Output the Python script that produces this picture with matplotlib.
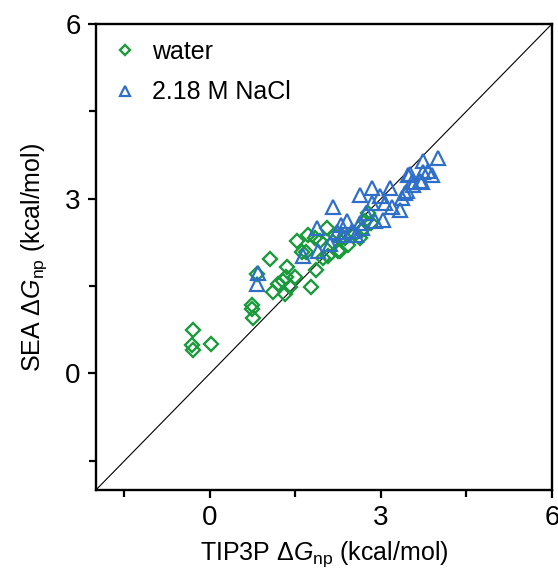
"""Recreate SEA vs TIP3P nonpolar solvation free energy scatter plot."""
import matplotlib
matplotlib.use('Agg')
import matplotlib.pyplot as plt

plt.rcParams['font.family'] = ['Liberation Sans', 'DejaVu Sans']
plt.rcParams['mathtext.fontset'] = 'custom'
plt.rcParams['mathtext.rm'] = 'Liberation Sans'
plt.rcParams['mathtext.it'] = 'Liberation Sans:italic'

# water: TIP3P (x) vs SEA (y), kcal/mol
water_x = [-0.30, -0.32, -0.30, 0.02, 0.74, 0.74, 0.75, 0.82, 1.05, 1.11,
           1.19, 1.28, 1.35, 1.32, 1.40, 1.49, 1.53, 1.61, 1.72, 1.77,
           1.86, 1.93, 2.05, 2.07, 2.16, 2.28, 2.37, 2.42, 2.54, 2.63,
           2.67, 2.77, 2.82, 2.72, 2.19, 1.98, 1.33, 1.68, 1.84, 2.25]
water_y = [0.74, 0.48, 0.41, 0.51, 1.18, 1.11, 0.96, 1.70, 1.97, 1.39,
           1.54, 1.58, 1.82, 1.36, 1.48, 1.66, 2.28, 2.08, 2.38, 1.49,
           1.78, 2.28, 2.50, 2.02, 2.25, 2.11, 2.33, 2.20, 2.40, 2.32,
           2.47, 2.76, 2.59, 2.62, 2.38, 1.99, 1.65, 2.08, 2.33, 2.11]

# 2.18 M NaCl
nacl_x = [0.84, 0.82, 1.63, 1.88, 1.89, 2.11, 2.16, 2.23, 2.32, 2.40,
          2.49, 2.63, 2.67, 2.63, 2.84, 2.84, 2.89, 3.04, 2.98, 3.16,
          3.19, 3.33, 3.37, 3.42, 3.46, 3.47, 3.54, 3.51, 3.56, 3.68,
          3.72, 3.74, 3.74, 3.82, 3.89, 4.00, 2.30, 2.56, 2.74, 3.07]
nacl_y = [1.73, 1.54, 2.01, 2.50, 2.11, 2.23, 2.85, 2.42, 2.37, 2.62,
          2.45, 2.59, 2.49, 3.07, 3.19, 2.93, 2.62, 2.64, 3.05, 3.19,
          2.85, 2.81, 3.02, 3.10, 3.14, 3.41, 3.28, 3.43, 3.24, 3.31,
          3.28, 3.65, 3.45, 3.48, 3.41, 3.70, 2.54, 2.37, 2.76, 2.93]

GREEN = '#1a9a3c'
BLUE = '#2f6fc8'


def main():
    fig = plt.figure(figsize=(5.58, 5.71), dpi=100)
    ax = fig.add_axes([0.172, 0.142, 0.817, 0.816])

    ax.plot([-2, 6], [-2, 6], color='black', linewidth=0.8, zorder=1)
    ax.plot(water_x, water_y, linestyle='none', marker='D', markersize=7.5,
            markerfacecolor='none', markeredgecolor=GREEN,
            markeredgewidth=1.7, label='water', zorder=2)
    ax.plot(nacl_x, nacl_y, linestyle='none', marker='^', markersize=9.5,
            markerfacecolor='none', markeredgecolor=BLUE,
            markeredgewidth=1.6, label='2.18 M NaCl', zorder=3)

    ax.set_xlim(-2, 6)
    ax.set_ylim(-2, 6)
    ax.set_xticks([0, 3, 6])
    ax.set_yticks([0, 3, 6])
    ax.set_xticks([-1.5, 1.5, 4.5], minor=True)
    ax.set_yticks([-1.5, 1.5, 4.5], minor=True)
    ax.tick_params(which='both', direction='out', width=1.6, labelsize=20,
                   top=False, right=False)
    ax.tick_params(which='major', length=6, pad=5)
    ax.tick_params(which='minor', length=5)
    for spine in ax.spines.values():
        spine.set_linewidth(1.7)

    ax.set_xlabel('TIP3P Δ$G_\\mathrm{np}$ (kcal/mol)', fontsize=18,
                  labelpad=6)
    ax.set_ylabel('SEA Δ$G_\\mathrm{np}$ (kcal/mol)', fontsize=18,
                  labelpad=12)

    ax.legend(loc='upper left', frameon=False, fontsize=18, markerscale=0.7,
              handlelength=1.0, handletextpad=0.6, labelspacing=0.65,
              borderaxespad=0.25)

    fig.savefig('out.png', dpi=100)
    plt.close(fig)


if __name__ == '__main__':
    main()
